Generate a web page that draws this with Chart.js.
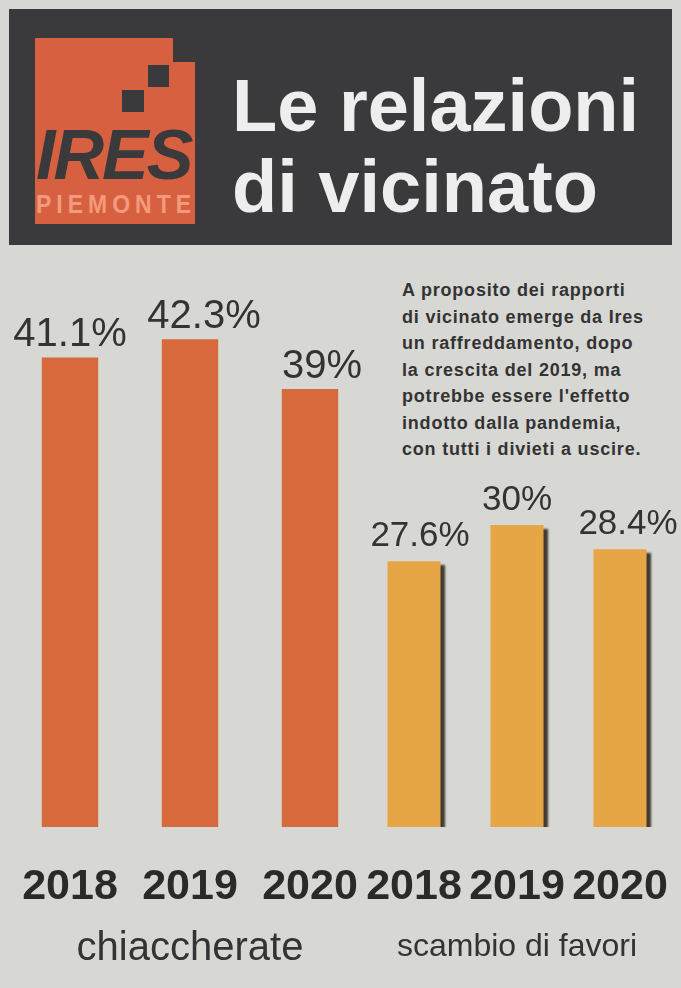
<!DOCTYPE html>
<html><head><meta charset="utf-8">
<script src="https://cdn.jsdelivr.net/npm/chart.js@4.4.1/dist/chart.umd.min.js"></script>
<style>
html,body{margin:0;padding:0;}
body{width:681px;height:988px;background:#d7d7d3;position:relative;overflow:hidden;font-family:"Liberation Sans",Arial,sans-serif;}
#header{position:absolute;left:9px;top:9px;width:663px;height:236px;background:#3a3a3c;}
#logo{position:absolute;left:35px;top:38px;width:160px;height:186px;overflow:hidden;}
.lg{position:absolute;background:#d6603f;}
.sq{position:absolute;background:#3a3a3c;}
#ires{position:absolute;left:1px;top:77px;font:italic bold 70px/80px "Liberation Sans",Arial,sans-serif;color:#3a3a3c;letter-spacing:-2px;}
#piem{position:absolute;left:1px;top:152px;font:bold 23px/26px "Liberation Sans",Arial,sans-serif;color:#f39a7c;letter-spacing:5px;transform:scaleY(1.1);transform-origin:left top;}
#title{position:absolute;left:232px;top:65px;font:bold 74px/81px "Liberation Sans",Arial,sans-serif;color:#eeeeee;}
#note{position:absolute;left:402px;top:277px;font:bold 18px/26.5px "Liberation Sans",Arial,sans-serif;color:#333;letter-spacing:0.8px;white-space:pre;}
.cv{position:absolute;top:250px;height:738px;}
#c1wrap{left:0;width:372px;}
#c2wrap{left:362px;width:319px;}
</style></head>
<body>
<div id="header"></div>
<div id="logo">
  <div class="lg" style="left:0;top:0;width:138px;height:186px;"></div>
  <div class="lg" style="left:137px;top:24px;width:23px;height:162px;"></div>
  <div class="sq" style="left:113px;top:27px;width:21px;height:22px;"></div>
  <div class="sq" style="left:87px;top:52px;width:22px;height:22px;"></div>
  <div id="ires">IRES</div>
  <div id="piem">PIEMONTE</div>
</div>
<div id="title">Le relazioni<br>di vicinato</div>
<div id="note">A proposito dei rapporti
di vicinato emerge da Ires
un raffreddamento, dopo
la crescita del 2019, ma
potrebbe essere l'effetto
indotto dalla pandemia,
con tutti i divieti a uscire.</div>
<div class="cv" id="c1wrap"><canvas id="c1"></canvas></div>
<div class="cv" id="c2wrap"><canvas id="c2"></canvas></div>
<script>
const years = ["2018", "2019", "2020"];
const chiacchierate = [41.1, 42.3, 39];
const favori = [27.6, 30, 28.4];
const chiacLabels = ["41.1%", "42.3%", "39%"];
const favoriLabels = ["27.6%", "30%", "28.4%"];
const groupNames = ["chiaccherate", "scambio di favori"];

const valueLabels = {
  id: 'valueLabels',
  afterDatasetsDraw(chart, args, opts) {
    const ctx = chart.ctx;
    const meta = chart.getDatasetMeta(0);
    ctx.save();
    ctx.shadowColor = 'transparent';
    ctx.font = opts.font;
    ctx.fillStyle = '#333333';
    ctx.textAlign = 'center';
    ctx.textBaseline = 'alphabetic';
    meta.data.forEach((bar, i) => {
      ctx.fillText(opts.labels[i], bar.x + (opts.dx ? opts.dx[i] : 0), bar.y - opts.gap);
    });
    ctx.restore();
  }
};
const barShadow = {
  id: 'barShadow',
  beforeDatasetsDraw(chart, args, opts) {
    if (!opts.on) return;
    chart.ctx.save();
    chart.ctx.shadowColor = 'rgba(40,30,20,0.85)';
    chart.ctx.shadowOffsetX = 4;
    chart.ctx.shadowOffsetY = 4;
    chart.ctx.shadowBlur = 2;
  },
  afterDatasetsDraw(chart, args, opts) {
    if (!opts.on) return;
    chart.ctx.restore();
  }
};
Chart.register(valueLabels, barShadow);

function makeChart(id, data, labels, color, pct, labelFont, gap, titleText, titleSize, titlePadTop, padBottom, padL, padR, shadow, dx) {
  return new Chart(document.getElementById(id), {
    type: 'bar',
    data: { labels: years, datasets: [{ data: data, backgroundColor: color, barPercentage: pct, categoryPercentage: 1.0 }] },
    options: {
      responsive: true, maintainAspectRatio: false, animation: false,
      layout: { padding: { top: 48.5, bottom: padBottom, left: padL, right: padR } },
      plugins: {
        legend: { display: false }, tooltip: { enabled: false },
        valueLabels: { labels: labels, font: labelFont, gap: gap, dx: dx },
        barShadow: { on: shadow }
      },
      scales: {
        y: { display: false, min: 10, max: 45 },
        x: {
          grid: { display: false, drawTicks: true, tickLength: 34 }, border: { display: false },
          ticks: { color: '#2a2a2a', font: { family: 'Liberation Sans', weight: 'bold', size: 43 }, padding: 0, maxRotation: 0, autoSkip: false },
          title: { display: true, text: titleText, color: '#333333', font: { family: 'Liberation Sans', size: titleSize }, padding: { top: titlePadTop, bottom: 0 } }
        }
      }
    }
  });
}
makeChart('c1', chiacchierate, chiacLabels, '#d8693d', 0.47, '40px "Liberation Sans"', 11, groupNames[0], 40, 12.4, 15, 10, 2, false, [0, 14, 12]);
makeChart('c2', favori, favoriLabels, '#e6a645', 0.515, '35px "Liberation Sans"', 15, groupNames[1], 32, 15.2, 21.8, 0.5, 9.5, true, [6, 0, 8]);
</script>
</body></html>
